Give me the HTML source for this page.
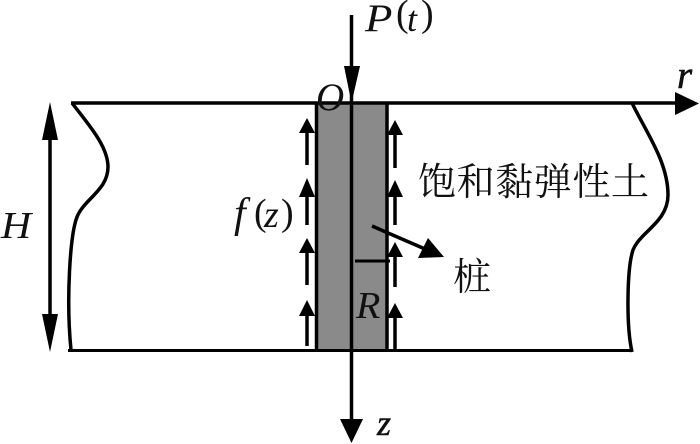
<!DOCTYPE html>
<html><head><meta charset="utf-8"><style>
html,body{margin:0;padding:0;background:#fff;width:700px;height:444px;overflow:hidden}
svg{display:block}
.m{font-family:"Liberation Serif",serif;font-style:italic;fill:#111}
.u{font-family:"Liberation Serif",serif;fill:#111}
.c{font-family:"Liberation Serif","Noto Serif CJK SC",serif;fill:#111}
</style></head><body>
<svg width="700" height="444" viewBox="0 0 700 444" xmlns="http://www.w3.org/2000/svg">
<rect x="316" y="103" width="71" height="247" fill="#8a8a8a"/>
<g stroke="#000" fill="none">
<path d="M71 103H676" stroke-width="3.500"/>
<path d="M68 350.500H632" stroke-width="3"/>
<path d="M316.500 103V350M387 103V350" stroke-width="3.500"/>
<path d="M351.500 15V420" stroke-width="3.500"/>
<path d="M50 135V320" stroke-width="3.500"/>
<path d="M72 103C88 124 108 146 108 167C108 190 84 199 77 217C70 235 66 300 71 350" stroke-width="3.500"/>
<path d="M632 103C646 132 668 162 668 195C668 222 640 232 633 250C627 268 626 325 632 352" stroke-width="3.500"/>
<path d="M372 226L425 249" stroke-width="3.500"/>
<path d="M355 261H390" stroke-width="3"/>
<path d="M307 130V165M307 195V225M307 250V285M307 313V346" stroke-width="3.500"/>
<path d="M395 131V168M395 195V225M395 254V287M395 315V350" stroke-width="3.500"/>
</g>
<g fill="#000">
<path d="M344 66H360L351.500 103Z"/>
<path d="M340 419H363L351.500 443Z"/>
<path d="M675 92L699 103.500L675 115Z"/>
<path d="M50 102L58 140H42Z"/>
<path d="M42 314H58L50 352Z"/>
<path d="M428 238L418 258L444 257Z"/>
<path d="M307 118L315 133H299Z"/><path d="M307 178L315 197H299Z"/><path d="M307 238L315 253H299Z"/><path d="M307 300L315 316H299Z"/>
<path d="M395 120L403 135H387Z"/><path d="M395 180L403 197H387Z"/><path d="M395 242L403 257H387Z"/><path d="M395 303L403 318H387Z"/>
</g>
<text class="m" transform="translate(365 31) scale(1.15 1)" font-size="39">P</text>
<text class="u" x="396" y="26" font-size="38">(</text>
<text class="m" x="407" y="31" font-size="36">t</text>
<text class="u" x="421" y="26" font-size="38">)</text>
<text class="m" x="316" y="110" font-size="39">O</text>
<text class="m" x="677" y="88" font-size="39" stroke="#111" stroke-width=".6">r</text>
<text class="m" transform="translate(1 238) scale(1.1 1)" font-size="38">H</text>
<text class="m" x="234" y="227" font-size="42">f</text>
<text class="u" x="254" y="225" font-size="38">(</text>
<text class="m" x="264" y="227" font-size="38">z</text>
<text class="u" x="281" y="225" font-size="38">)</text>
<text class="m" transform="translate(356 318) scale(1.05 1)" font-size="38">R</text>
<text class="m" x="377" y="435" font-size="36" stroke="#111" stroke-width=".5">z</text>
<text class="c" x="418" y="195" font-size="38" textLength="231" lengthAdjust="spacing">饱和黏弹性土</text>
<text class="c" x="453" y="290" font-size="38">桩</text>
</svg>
</body></html>
